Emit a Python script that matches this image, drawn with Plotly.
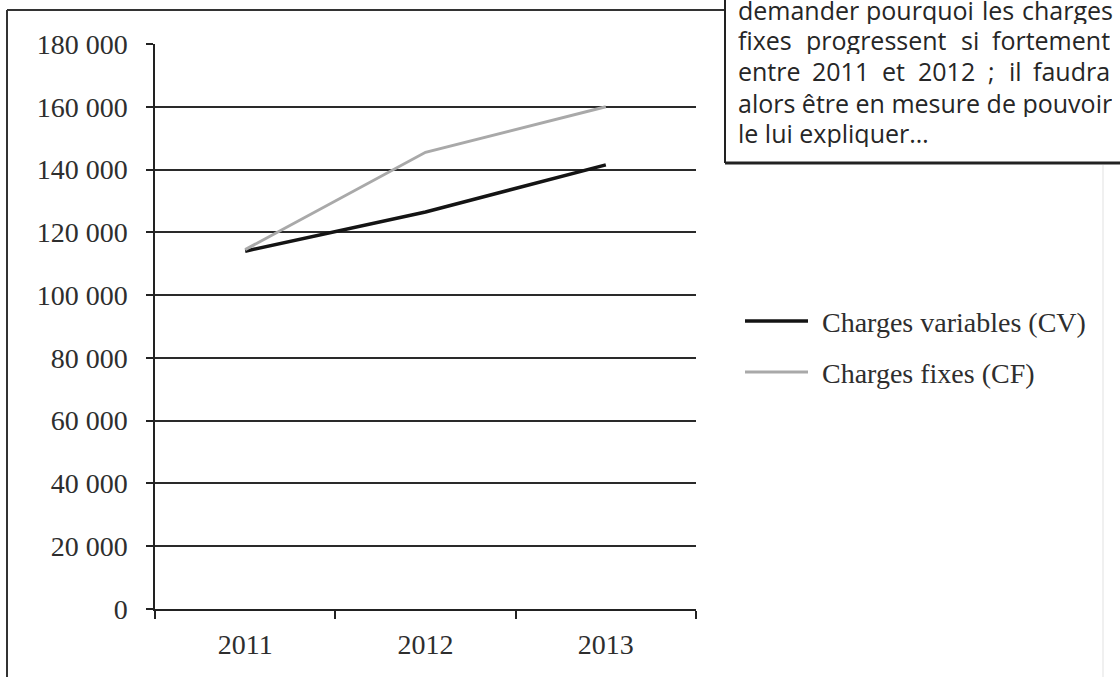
import plotly.graph_objects as go

# Data
years = ["2011", "2012", "2013"]
charges_variables = [114000, 126500, 141500]
charges_fixes = [114500, 145500, 160000]
series_names = ["Charges variables (CV)", "Charges fixes (CF)"]
y_ticks = [0, 20000, 40000, 60000, 80000, 100000, 120000, 140000, 160000, 180000]

# Text of the boxed remark (justified lines split into words)
note_lines = [
    ["demander", "pourquoi", "les", "charges"],
    ["fixes", "progressent", "si", "fortement"],
    ["entre", "2011", "et", "2012", ";", "il", "faudra"],
    ["alors être en mesure de pouvoir"],
    ["le lui expliquer…"],
]

# Styles
LINE_COLORS = ["#141414", "#a9a9a9"]
LINE_WIDTHS = [3.5, 3]
SERIF = "Liberation Serif"
SANS = "Open Sans"
INK = "#2e2e2e"

W, H = 1120, 677
L, R, T, B = 155, 696, 44, 609  # plot area in pixels


def px(x):
    return (x - L) / (R - L)


def py(y):
    return (B - y) / (B - T)


fig = go.Figure()
for name, vals, col, w in zip(series_names, [charges_variables, charges_fixes], LINE_COLORS, LINE_WIDTHS):
    fig.add_trace(go.Scatter(x=years, y=vals, mode="lines", name=name,
                             line=dict(color=col, width=w), showlegend=False))

shapes = []
annotations = []

# Outer frame (top and left edges)
shapes.append(dict(type="line", xref="paper", yref="paper", x0=px(7), x1=px(725), y0=py(10), y1=py(10),
                   line=dict(color="#333", width=2)))
shapes.append(dict(type="line", xref="paper", yref="paper", x0=px(7), x1=px(7), y0=py(10), y1=py(690),
                   line=dict(color="#333", width=2)))
# faint right edge
shapes.append(dict(type="line", xref="paper", yref="paper", x0=px(1103), x1=px(1103), y0=py(165), y1=py(690),
                   line=dict(color="#f0f0f0", width=2)))

# Remark box
shapes.append(dict(type="line", xref="paper", yref="paper", x0=px(725), x1=px(725), y0=py(-5), y1=py(163),
                   line=dict(color="#222", width=2)))
shapes.append(dict(type="line", xref="paper", yref="paper", x0=px(725), x1=px(1130), y0=py(163), y1=py(163),
                   line=dict(color="#222", width=3)))

# Word placement for the justified remark
word_x = [
    [(737, "left"), (920, "center"), (998, "center"), (1114, "right")],
    [(737, "left"), (876, "center"), (970, "center"), (1111, "right")],
    [(737, "left"), (840, "center"), (893, "center"), (946, "center"), (991, "center"), (1015, "center"), (1111, "right")],
    [(737, "left")],
    [(737, "left")],
]
line_y = [10, 40, 71, 103, 133]
for words, pos, yy in zip(note_lines, word_x, line_y):
    for wd, (xx, anc) in zip(words, pos):
        annotations.append(dict(text=wd, xref="paper", yref="paper", x=px(xx), y=py(yy),
                                xanchor=anc, yanchor="middle", showarrow=False, borderpad=0,
                                height=28, valign="middle",
                                font=dict(family=SANS, size=25, color="#262626")))

# Legend drawn as line samples with labels
legend_y = [321, 372]
for name, col, w, yy in zip(series_names, LINE_COLORS, LINE_WIDTHS, legend_y):
    shapes.append(dict(type="line", xref="paper", yref="paper", x0=px(745), x1=px(808), y0=py(yy), y1=py(yy),
                       line=dict(color=col, width=w)))
    annotations.append(dict(text=name, xref="paper", yref="paper", x=px(820), y=py(yy + 1),
                            xanchor="left", yanchor="middle", showarrow=False,
                            font=dict(family=SERIF, size=28, color=INK)))

fig.update_layout(
    width=W, height=H,
    margin=dict(l=L, r=W - R, t=T, b=H - B, pad=0),
    paper_bgcolor="white", plot_bgcolor="white",
    separators=", ",
    shapes=shapes, annotations=annotations,
    showlegend=False,
)
fig.update_xaxes(
    type="category", range=[-0.5, 2.5], tickson="boundaries",
    ticks="outside", ticklen=8, tickwidth=1.5, tickcolor="#222",
    showline=True, linecolor="#222", linewidth=1.5,
    showgrid=False, zeroline=False,
    tickfont=dict(family=SERIF, size=28, color=INK), ticklabelstandoff=10,
)
fig.update_yaxes(
    range=[0, 180000], tickvals=y_ticks, tickformat=",d",
    ticks="outside", ticklen=7, tickwidth=1.5, tickcolor="#222",
    showline=True, linecolor="#222", linewidth=1.5,
    showgrid=True, gridcolor="#2a2a2a", gridwidth=1.5, zeroline=False,
    tickfont=dict(family=SERIF, size=28, color=INK), ticklabelstandoff=13,
)

fig.write_html("out.html")
